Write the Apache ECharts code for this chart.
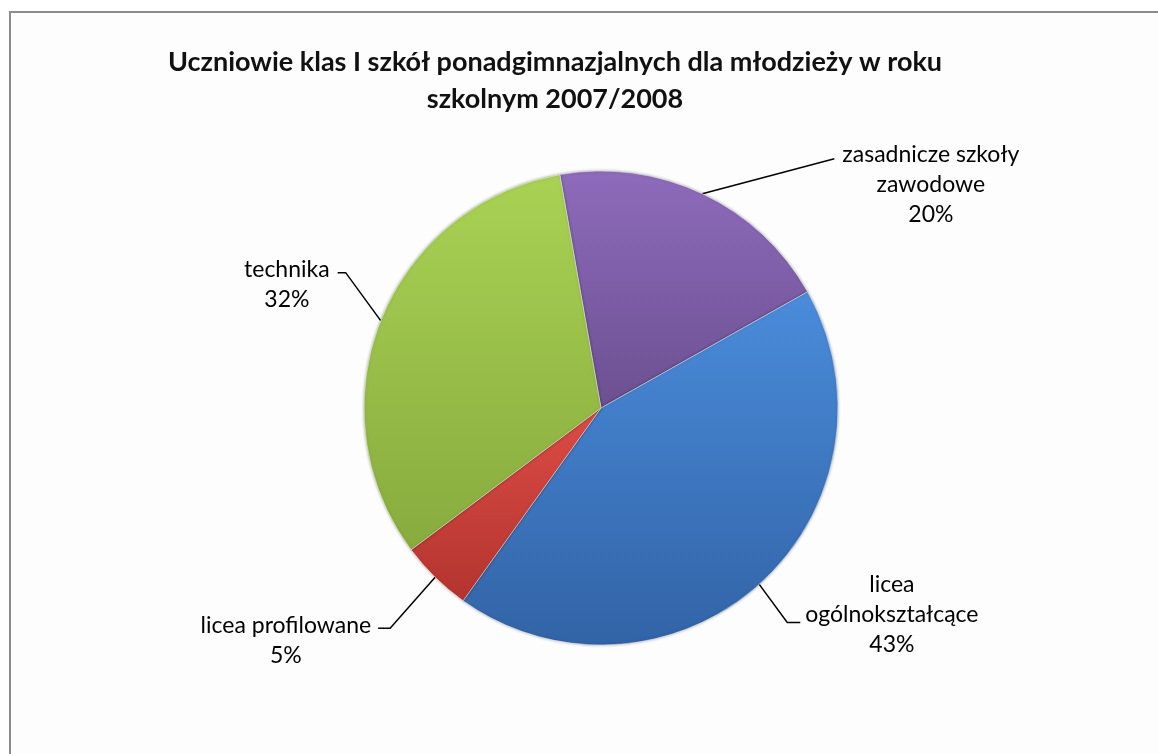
<!DOCTYPE html>
<html>
<head>
<meta charset="utf-8">
<script src="https://cdn.jsdelivr.net/npm/echarts@6/dist/echarts.min.js"></script>
<style>
  html, body { margin: 0; padding: 0; background: #fff; }
  #chart { width: 1158px; height: 754px; }
</style>
</head>
<body>
<div id="chart"></div>
<script>
// dane (udział w %)
var categories = ['zasadnicze szkoły zawodowe', 'licea ogólnokształcące', 'licea profilowane', 'technika']
var labelTexts = ['zasadnicze szkoły\nzawodowe', 'licea\nogólnokształcące', 'licea profilowane', 'technika']
var values = [19.6, 43.0, 4.9, 32.4]
var titleLines = ['Uczniowie klas I szkół ponadgimnazjalnych dla młodzieży w roku', 'szkolnym 2007/2008']

// kolory wycinków: jaśniejszy u góry, ciemniejszy u dołu
var sliceColors = [
  ['#8e6bbb', '#6b5091'],
  ['#4a8cdb', '#3263a6'],
  ['#dc4c45', '#b3342f'],
  ['#a9d254', '#88ab3e'],
]

// linie odniesienia: załamanie względem krawędzi wycinka, poziomy ogon, do której linii tekstu
var leader = [
  { dx: 132, dy: -35, tail: 0, line: 0, shift: -4, gap: 8 },
  { dx: 28, dy: 38, tail: 13, line: 1, shift: -8, gap: 5 },
  { dx: -45, dy: 51, tail: -12, line: 0, shift: -3, gap: 7 },
  { dx: -35, dy: -48, tail: -8, line: 0, shift: -3, gap: 8 },
]
var LINE_H = 30

function initChart() {
  var data = []
  for (var i = 0; i < categories.length; i++) {
    data.push({
      name: categories[i],
      value: values[i],
      itemStyle: {
        color: {
          type: 'linear', x: 0, y: 0, x2: 0, y2: 1,
          colorStops: [
            { offset: 0, color: sliceColors[i][0] },
            { offset: 1, color: sliceColors[i][1] },
          ],
        },
      },
    })
  }

  var myChart = echarts.init(document.getElementById('chart'))
  var option = {
    animation: false,
    graphic: [
      {
        type: 'rect',
        z: -10,
        silent: true,
        shape: { x: 10, y: 12, width: 1200, height: 800 },
        style: { fill: '#fdfdfd', stroke: '#8c8c8c', lineWidth: 2 },
      },
    ],
    title: {
      text: titleLines.join('\n'),
      left: 555,
      top: 44,
      padding: 0,
      textAlign: 'center',
      textStyle: {
        fontFamily: 'Lato',
        fontWeight: 'bold',
        fontSize: 27,
        lineHeight: 37,
        color: '#111',
      },
    },
    series: [
      {
        type: 'pie',
        center: [601, 408],
        radius: 237,
        startAngle: 100,
        clockwise: true,
        avoidLabelOverlap: false,
        itemStyle: {
          borderColor: 'rgba(255,255,255,0.45)',
          borderWidth: 1,
          shadowBlur: 3,
          shadowColor: 'rgba(0,0,0,0.35)',
        },
        label: {
          show: true,
          position: 'outside',
          fontFamily: 'Lato',
          fontSize: 23,
          lineHeight: LINE_H,
          color: '#000',
          formatter: function (p) {
            return labelTexts[p.dataIndex] + '\n' + Math.round(p.percent) + '%'
          },
        },
        labelLine: {
          show: true,
          length: 20,
          length2: 10,
          lineStyle: { color: '#000', width: 1.5 },
        },
        labelLayout: function (params) {
          var cfg = leader[params.dataIndex]
          var p0 = params.labelLinePoints[0]
          var p1 = [p0[0] + cfg.dx, p0[1] + cfg.dy]
          var p2 = [p1[0] + cfg.tail, p1[1]]
          var w = params.labelRect.width
          var x = cfg.dx > 0 ? p2[0] + cfg.gap + w / 2 : p2[0] - cfg.gap - w / 2
          var y = p2[1] - (cfg.line + 0.5) * LINE_H + cfg.shift
          return {
            x: x,
            y: y,
            align: 'center',
            verticalAlign: 'top',
            labelLinePoints: [p0, p1, p2],
          }
        },
        data: data,
      },
    ],
  }
  myChart.setOption(option)
}

initChart()
</script>
</body>
</html>
